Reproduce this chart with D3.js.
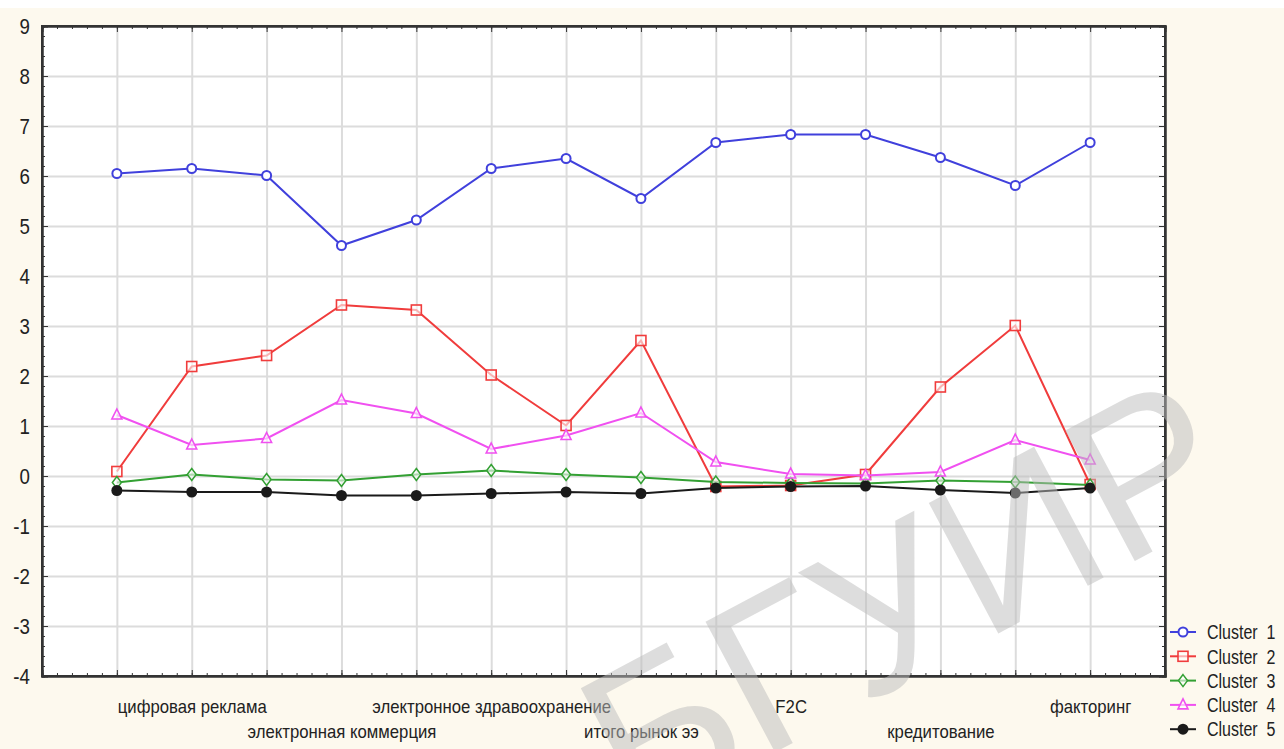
<!DOCTYPE html>
<html>
<head>
<meta charset="utf-8">
<script src="https://cdn.jsdelivr.net/npm/d3@7"></script>
<style>
  body { margin: 0; background: #fdf9ee; }
  svg { display: block; }
  .axis path, .axis line { stroke: #333; }
  .grid line { stroke: #dcdcdc; stroke-width: 2; }
  .grid path { display: none; }
  text { font-family: "Liberation Sans", Arial, sans-serif; fill: #222; }
</style>
</head>
<body>
<div id="chart"></div>
<script>
// categories (only every second label is printed in the original)
var categories = ['', 'цифровая реклама', '', 'электронная коммерция', '', 'электронное здравоохранение',
  '', 'итого рынок ээ', '', 'F2C', '', 'кредитование', '', 'факторинг'];
var yTicks = [-4, -3, -2, -1, 0, 1, 2, 3, 4, 5, 6, 7, 8, 9];
var seriesNames = ['Cluster  1', 'Cluster  2', 'Cluster  3', 'Cluster  4', 'Cluster  5'];

var cluster1 = [6.05, 6.15, 6.01, 4.61, 5.12, 6.15, 6.35, 5.55, 6.67, 6.83, 6.83, 6.37, 5.81, 6.67];
var cluster2 = [0.09, 2.19, 2.41, 3.42, 3.32, 2.02, 1.01, 2.71, -0.21, -0.19, 0.03, 1.78, 3.01, -0.17];
var cluster3 = [-0.13, 0.03, -0.07, -0.09, 0.03, 0.11, 0.03, -0.03, -0.12, -0.14, -0.15, -0.09, -0.12, -0.18];
var cluster4 = [1.22, 0.62, 0.75, 1.52, 1.25, 0.54, 0.81, 1.26, 0.28, 0.04, 0.01, 0.08, 0.72, 0.32];
var cluster5 = [-0.29, -0.32, -0.32, -0.39, -0.39, -0.35, -0.32, -0.35, -0.24, -0.21, -0.2, -0.28, -0.34, -0.24];

var W = 1284, H = 749;
var margin = {top: 26, right: 119, bottom: 73, left: 42},
  width = W - margin.left - margin.right,
  height = H - margin.top - margin.bottom;

var styles = [
  {color: '#4040dc', marker: 'circle'},
  {color: '#f03c3c', marker: 'square'},
  {color: '#33a033', marker: 'diamond'},
  {color: '#f050f0', marker: 'triangle'},
  {color: '#1a1a1a', marker: 'dot'}
];

// squeeze a text horizontally so it looks like a narrow font
function narrow(sel, k) {
  sel.each(function () {
    var len = this.getComputedTextLength();
    if (len > 0) {
      d3.select(this).attr('textLength', len * k).attr('lengthAdjust', 'spacingAndGlyphs');
    }
  });
}

var svg = d3.select('#chart').append('svg')
  .attr('width', W)
  .attr('height', H);

svg.append('rect').attr('width', W).attr('height', H).attr('fill', '#fdf9ee');
svg.append('rect').attr('width', W).attr('height', 8).attr('fill', '#ffffff');

var g = svg.append('g')
  .attr('transform', 'translate(' + margin.left + ',' + margin.top + ')');

var x = d3.scaleLinear().domain([0, categories.length + 1]).range([0, width]);
var y = d3.scaleLinear().domain([-4, 9]).range([height, 0]);
var catIdx = d3.range(1, categories.length + 1);

g.append('rect').attr('width', width).attr('height', height).attr('fill', '#ffffff');

// grid
g.append('g').attr('class', 'grid')
  .attr('transform', 'translate(0,' + height + ')')
  .call(d3.axisBottom(x).tickValues(catIdx).tickSize(-height).tickFormat(''));
g.append('g').attr('class', 'grid')
  .call(d3.axisLeft(y).tickValues(yTicks.slice(1, -1)).tickSize(-width).tickFormat(''));

// minor ticks
var minorX = d3.range(0, (categories.length + 1) * 5 + 1).map(function (i) { return i / 5; });
var minorY = d3.range(-20, 46).map(function (i) { return i / 5; });
g.append('g').attr('class', 'axis')
  .attr('transform', 'translate(0,' + height + ')')
  .call(d3.axisBottom(x).tickValues(minorX).tickSize(-3).tickFormat(''));
g.append('g').attr('class', 'axis')
  .call(d3.axisTop(x).tickValues(minorX).tickSize(-3).tickFormat(''));
g.append('g').attr('class', 'axis')
  .call(d3.axisLeft(y).tickValues(minorY).tickSize(-3).tickFormat(''));
g.append('g').attr('class', 'axis')
  .attr('transform', 'translate(' + width + ',0)')
  .call(d3.axisRight(y).tickValues(minorY).tickSize(-3).tickFormat(''));

// major axes
var yAxis = g.append('g').attr('class', 'axis')
  .call(d3.axisLeft(y).tickValues(yTicks).tickSize(-6).tickPadding(12)
    .tickFormat(function (d) { return String(d); }));
yAxis.selectAll('text').style('font-size', '22px').attr('dy', '0.36em').call(narrow, 0.85);
g.append('g').attr('class', 'axis')
  .attr('transform', 'translate(' + width + ',0)')
  .call(d3.axisRight(y).tickValues(yTicks).tickSize(-6).tickFormat(''));
g.append('g').attr('class', 'axis')
  .call(d3.axisTop(x).tickValues(catIdx).tickSize(-6).tickFormat(''));

var xAxis = g.append('g').attr('class', 'axis')
  .attr('transform', 'translate(0,' + height + ')')
  .call(d3.axisBottom(x).tickValues(catIdx).tickSize(-6)
    .tickFormat(function (d) { return categories[d - 1]; }));
xAxis.selectAll('text')
  .style('font-size', '19px')
  .attr('dy', 0)
  .attr('y', function (d) { return (d % 4 === 2) ? 37 : 62; })
  .call(narrow, 0.88);

g.selectAll('.axis path.domain').attr('stroke-width', 2);

// frame
g.append('rect').attr('width', width).attr('height', height)
  .attr('fill', 'none').attr('stroke', '#333').attr('stroke-width', 2);

var allSeries = [cluster1, cluster2, cluster3, cluster4, cluster5];

var line = d3.line()
  .x(function (d, i) { return x(i + 1); })
  .y(function (d) { return y(d); });

function drawMarker(sel, st) {
  if (st.marker === 'circle') {
    sel.append('circle').attr('r', 4.5).attr('fill', '#fff').attr('stroke', st.color).attr('stroke-width', 2);
  } else if (st.marker === 'square') {
    sel.append('rect').attr('x', -5).attr('y', -5).attr('width', 10).attr('height', 10)
      .attr('fill', '#fff').attr('fill-opacity', 0.6).attr('stroke', st.color).attr('stroke-width', 1.6);
  } else if (st.marker === 'diamond') {
    sel.append('path').attr('d', 'M0,-6L4.5,0L0,6L-4.5,0Z')
      .attr('fill', '#fff').attr('fill-opacity', 0.6).attr('stroke', st.color).attr('stroke-width', 1.5);
  } else if (st.marker === 'triangle') {
    sel.append('path').attr('d', 'M0,-6L5,4L-5,4Z')
      .attr('fill', '#fff').attr('fill-opacity', 0.6).attr('stroke', st.color).attr('stroke-width', 1.6);
  } else {
    sel.append('circle').attr('r', 5.5).attr('fill', st.color);
  }
}

allSeries.forEach(function (data, k) {
  var st = styles[k];
  g.append('path')
    .datum(data)
    .attr('fill', 'none')
    .attr('stroke', st.color)
    .attr('stroke-width', 2)
    .attr('d', line);
  g.selectAll('.m' + k)
    .data(data)
    .enter()
    .append('g')
    .attr('class', 'm' + k)
    .attr('transform', function (d, i) { return 'translate(' + x(i + 1) + ',' + y(d) + ')'; })
    .each(function () { drawMarker(d3.select(this), st); });
});

// legend (text squeezed with a scale so its box stays inside the page)
var legend = svg.append('g').attr('transform', 'translate(1170,632)');
seriesNames.forEach(function (name, k) {
  var row = legend.append('g').attr('transform', 'translate(0,' + (k * 24.3) + ')');
  row.append('line').attr('x1', 0).attr('x2', 26).attr('stroke', styles[k].color).attr('stroke-width', 2);
  var mk = row.append('g').attr('transform', 'translate(13,0)');
  drawMarker(mk, styles[k]);
  row.append('g').attr('transform', 'translate(37,0) scale(0.8,1)')
    .append('text').attr('dy', '0.36em')
    .style('font-size', '20px').style('white-space', 'pre')
    .attr('xml:space', 'preserve')
    .text(name);
});

// watermark
svg.append('text')
  .attr('transform', 'translate(905,598) rotate(-28)')
  .attr('text-anchor', 'middle')
  .attr('dy', '0.35em')
  .style('font-family', '"Liberation Sans", sans-serif')
  .style('font-size', '215px')
  .style('fill', '#bcbcbc')
  .style('fill-opacity', 0.5)
  .text('БГУИР');
</script>
</body>
</html>
